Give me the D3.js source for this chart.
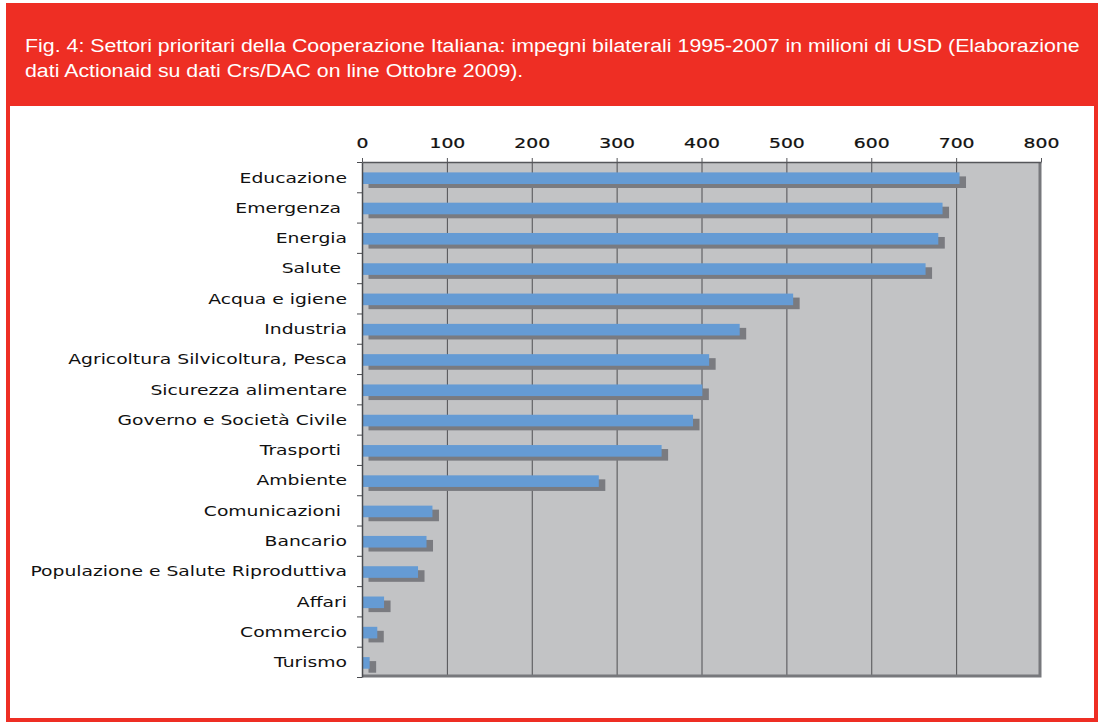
<!DOCTYPE html>
<html>
<head>
<meta charset="utf-8">
<script src="https://cdn.jsdelivr.net/npm/d3@7"></script>
<style>
  body { margin: 0; background: #fff; }
  svg { display: block; }
  .lbl { font-family: "DejaVu Sans", Verdana, sans-serif; font-size: 14px; fill: #111; white-space: pre; }
  .title { font-family: "Liberation Sans", Arial, Helvetica, sans-serif; font-size: 18.6px; fill: #fff; }
</style>
</head>
<body>
<svg width="1098" height="722"></svg>
<script>
// **** data ****
var sectors = ["Educazione", "Emergenza ", "Energia", "Salute ", "Acqua e igiene", "Industria",
    "Agricoltura Silvicoltura, Pesca", "Sicurezza alimentare", "Governo e Società Civile",
    "Trasporti ", "Ambiente", "Comunicazioni ", "Bancario", "Populazione e Salute Riproduttiva",
    "Affari", "Commercio", "Turismo"];
var amounts = [704, 684, 679, 664, 508, 445, 409, 401, 390, 353, 279, 83, 76, 66, 26, 18, 9];
var xTicks = [0, 100, 200, 300, 400, 500, 600, 700, 800];
var titleLines = [
    "Fig. 4: Settori prioritari della Cooperazione Italiana: impegni bilaterali 1995-2007 in milioni di USD (Elaborazione",
    "dati Actionaid su dati Crs/DAC on line Ottobre 2009)."
];

var data = sectors.map(function(s, i) { return {name: s, value: amounts[i]}; });

var svg = d3.select('svg');

// frame: red page with header and white panel
svg.append('rect').attr('x', 6).attr('y', 3).attr('width', 1092).attr('height', 719).attr('fill', '#ee2e24');
svg.append('rect').attr('x', 10).attr('y', 106).attr('width', 1084).attr('height', 612).attr('fill', '#fff');

svg.selectAll('g.title')
    .data(titleLines)
    .enter()
    .append('g')
    .attr('transform', function(d, i) { return 'translate(25,' + (51.5 + i * 25) + ') scale(1.148,1)'; })
    .append('text')
    .attr('class', 'title')
    .text(function(d) { return d; });

// **** scales ****
var plotL = 362, plotR = 1041, plotT = 162, plotB = 677;

var xScale = d3.scaleLinear().domain([0, 800]).range([plotL, plotR]);
var yScale = d3.scaleBand().domain(sectors).range([plotT, plotB]);
var rowScale = d3.scaleLinear().domain([0, sectors.length]).range([plotT, plotB]);

// plot background
svg.append('rect')
    .attr('x', plotL).attr('y', plotT)
    .attr('width', plotR - plotL).attr('height', plotB - plotT)
    .attr('fill', '#c2c3c5');

// gridlines
svg.append('g')
    .attr('transform', 'translate(0,' + plotT + ')')
    .call(d3.axisTop(xScale).tickValues(xTicks.slice(1, -1)).tickSize(-(plotB - plotT)).tickFormat(''))
    .call(function(g) { g.select('.domain').remove(); })
    .selectAll('line').attr('stroke', '#4f4f52');

// shadow on right / bottom of the plot
svg.append('path')
    .attr('d', 'M' + (plotR - 1) + ',' + plotT + 'V' + (plotB - 1) + 'H' + plotL)
    .attr('fill', 'none').attr('stroke', '#77787c').attr('stroke-width', 3);

// bars: shadow first, blue on top
var bh = 11.6;
svg.selectAll('rect.shadow')
    .data(data)
    .enter()
    .append('rect')
    .attr('class', 'shadow')
    .attr('x', xScale(0) + 6.5)
    .attr('y', function(d) { return yScale(d.name) + 10.4 + 4; })
    .attr('width', function(d) { return xScale(d.value) - xScale(0); })
    .attr('height', bh)
    .attr('fill', '#7a7b80');

svg.selectAll('rect.bar')
    .data(data)
    .enter()
    .append('rect')
    .attr('class', 'bar')
    .attr('x', xScale(0) + 0.5)
    .attr('y', function(d) { return yScale(d.name) + 10.4; })
    .attr('width', function(d) { return xScale(d.value) - xScale(0) - 0.5; })
    .attr('height', bh)
    .attr('fill', '#659bd4');

// top axis with labels
var xAxis = svg.append('g')
    .attr('transform', 'translate(0,' + plotT + ')')
    .call(d3.axisTop(xScale).tickValues(xTicks).tickSize(4).tickSizeOuter(0).tickPadding(10));
xAxis.attr('font-size', null).attr('font-family', null);
xAxis.select('.domain').attr('stroke', '#55565a').attr('stroke-width', 1.5);
xAxis.selectAll('line').attr('stroke', '#55565a');
xAxis.selectAll('text')
    .attr('class', 'lbl')
    .attr('fill', '#111')
    .attr('stroke', '#111').attr('stroke-width', 0.25)
    .attr('transform', 'scale(1.34,1)');

// left axis: boundary ticks only
var yAxis = svg.append('g')
    .attr('transform', 'translate(' + plotL + ',0)')
    .call(d3.axisLeft(rowScale).ticks(sectors.length).tickSize(5).tickSizeOuter(0).tickFormat(''));
yAxis.select('.domain').attr('stroke', '#4a4b4f').attr('stroke-width', 1.5);
yAxis.selectAll('line').attr('stroke', '#4a4b4f');

// category labels (the source text is drawn wide)
svg.selectAll('g.cat')
    .data(data)
    .enter()
    .append('g')
    .attr('class', 'cat')
    .attr('transform', function(d) { return 'translate(347,' + (yScale(d.name) + 20.5) + ') scale(1.34,1)'; })
    .append('text')
    .attr('class', 'lbl')
    .attr('text-anchor', 'end')
    .text(function(d) { return d.name; });
</script>
</body>
</html>
